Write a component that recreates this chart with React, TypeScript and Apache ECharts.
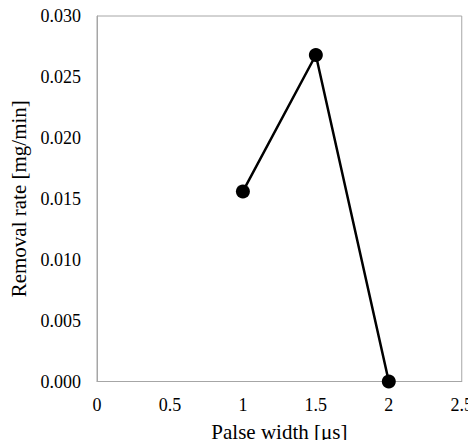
import React, { useEffect, useRef } from "react";
import * as echarts from "echarts";

const pulseWidths = [1, 1.5, 2];
const removalRates = [0.0156, 0.0268, 0.0];
const xTicks = ["0", "0.5", "1", "1.5", "2", "2.5"];

export default function App() {
  const ref = useRef<HTMLDivElement>(null);
  useEffect(() => {
    if (!ref.current) return;
    const chart = echarts.init(ref.current, null, { renderer: "svg" });
    const font = "Liberation Serif";
    chart.setOption({
      animation: false,
      backgroundColor: "#ffffff",
      grid: {
        left: 96.5,
        top: 16,
        right: 11,
        bottom: 66.5,
        show: true,
        borderColor: "#a6a6a6",
        borderWidth: 1,
      },
      xAxis: {
        type: "value",
        min: 0,
        max: 2.5,
        interval: 0.5,
        name: "Palse width [μs]",
        nameLocation: "middle",
        nameGap: 40,
        nameTextStyle: { fontFamily: font, fontSize: 21, color: "#000" },
        axisLine: { show: true, lineStyle: { color: "#a6a6a6", width: 1 } },
        axisTick: { show: false },
        splitLine: { show: false },
        axisLabel: {
          fontFamily: font,
          fontSize: 18,
          color: "#000",
          margin: 14,
          formatter: (v: number) => xTicks[Math.round(v / 0.5)] ?? String(v),
        },
      },
      yAxis: {
        type: "value",
        min: 0,
        max: 0.03,
        interval: 0.005,
        name: "Removal rate [mg/min]",
        nameLocation: "middle",
        nameGap: 68,
        nameTextStyle: { fontFamily: font, fontSize: 21, color: "#000" },
        axisLine: { show: true, lineStyle: { color: "#a6a6a6", width: 1 } },
        axisTick: { show: false },
        splitLine: { show: false },
        axisLabel: {
          fontFamily: font,
          fontSize: 18,
          color: "#000",
          margin: 16,
          formatter: (v: number) => v.toFixed(3),
        },
      },
      series: [
        {
          type: "line",
          data: pulseWidths.map((x, i) => [x, removalRates[i]]),
          symbol: "circle",
          symbolSize: 14,
          itemStyle: { color: "#000" },
          lineStyle: { color: "#000", width: 2.5 },
        },
      ],
    });
    return () => chart.dispose();
  }, []);
  return <div ref={ref} style={{ width: 476, height: 448, margin: -8 }} />;
}
